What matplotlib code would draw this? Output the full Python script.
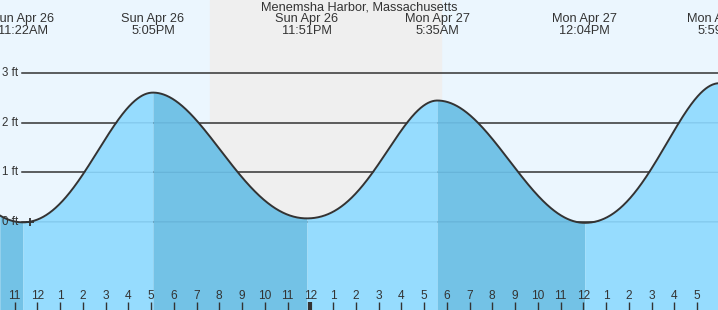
import matplotlib
matplotlib.use("Agg")
import matplotlib.pyplot as plt
import numpy as np
import pandas as pd

plt.rcParams['font.family'] = ['Liberation Sans', 'DejaVu Sans']

# tide heights (ft): highs, lows and points in between
curve_times = ['2020-04-26 10:21', '2020-04-26 11:22', '2020-04-26 12:33',
               '2020-04-26 13:18', '2020-04-26 13:44', '2020-04-26 14:06',
               '2020-04-26 15:29', '2020-04-26 17:05', '2020-04-26 18:56',
               '2020-04-26 20:55', '2020-04-26 22:09', '2020-04-26 22:53',
               '2020-04-26 23:51', '2020-04-27 01:05', '2020-04-27 02:07',
               '2020-04-27 02:45', '2020-04-27 04:14', '2020-04-27 05:35',
               '2020-04-27 07:22', '2020-04-27 09:10', '2020-04-27 10:28',
               '2020-04-27 11:12', '2020-04-27 12:04', '2020-04-27 13:24',
               '2020-04-27 14:16', '2020-04-27 14:56', '2020-04-27 16:16',
               '2020-04-27 17:59']
curve_heights = [0.13, -0.01, 0.24, 0.53, 0.75, 1.00, 2.00, 2.61, 2.00, 1.00,
                 0.38, 0.18, 0.07, 0.24, 0.61, 1.00, 2.00, 2.45, 1.89, 1.00,
                 0.38, 0.12, -0.02, 0.24, 0.61, 1.00, 2.00, 2.80]

# labelled highs / lows along the top
extreme_times = ['2020-04-26 11:22', '2020-04-26 17:05', '2020-04-26 23:51',
                 '2020-04-27 05:35', '2020-04-27 12:04', '2020-04-27 17:59']

sunset = '2020-04-26 19:35'
sunrise = '2020-04-27 05:45'
view_start = '2020-04-26 10:21:36'
view_end = '2020-04-27 17:55:18'
now_time = '2020-04-26 11:41'

hour_labels = ['11', '12', '1', '2', '3', '4', '5', '6', '7', '8', '9', '10', '11',
               '12', '1', '2', '3', '4', '5', '6', '7', '8', '9', '10', '11',
               '12', '1', '2', '3', '4', '5']
first_hour = '2020-04-26 11:00'
ft_levels = [0, 1, 2, 3]

title = 'Menemsha Harbor, Massachusetts'

midnight = pd.Timestamp('2020-04-27 00:00')


def hrs(s):
    return (pd.Timestamp(s) - midnight) / pd.Timedelta(hours=1)


day_bg = '#ebf6fe'
night_bg = '#efefef'
fill_rise = '#96dcfe'
fill_fall = '#73c2e6'
ink = '#333333'

fig = plt.figure(figsize=(7.18, 3.10), dpi=100)
ax = fig.add_axes([0, 0, 1, 1])
x0, x1 = hrs(view_start), hrs(view_end)
y0, y1 = -1.78, 4.48
ax.set_xlim(x0, x1)
ax.set_ylim(y0, y1)
ax.axis('off')

ax.axvspan(x0, x1, color=day_bg, zorder=0)
ax.axvspan(hrs(sunset), hrs(sunrise), color=night_bg, zorder=0)

gx = x0 + (x1 - x0) * 22 / 718
for lv in ft_levels:
    ax.plot([gx, x1], [lv, lv], color=ink, lw=1.1, zorder=1)
    ax.text(x0 + (x1 - x0) * 2 / 718, lv, f'{lv} ft', fontsize=8.3, color=ink,
            ha='left', va='center', zorder=5)

tx = np.array([hrs(s) for s in curve_times])
hy = np.array(curve_heights)
turn_x = [hrs(s) for s in extreme_times]
turn_idx = [int(np.argmin(np.abs(tx - t))) for t in turn_x]

# each half cycle: cosine between high and low, on a slightly skewed clock
# fitted to the points read in between
pieces = []
t_first = np.linspace(tx[0], tx[turn_idx[0]], 30)
w = (tx[turn_idx[0]] - t_first) / (tx[turn_idx[0]] - tx[0])
pieces.append((t_first, hy[turn_idx[0]] + (hy[0] - hy[turn_idx[0]]) * w ** 2, False))
for i0, i1 in zip(turn_idx[:-1], turn_idx[1:]):
    ta, tb, ha, hb = tx[i0], tx[i1], hy[i0], hy[i1]
    f = (tx[i0 + 1:i1] - ta) / (tb - ta)
    frac = np.clip((hy[i0 + 1:i1] - ha) / (hb - ha), 0, 1)
    u = np.arccos(1 - 2 * frac) / np.pi
    g = f * (1 - f)
    c = np.clip(np.sum((u - f) * g) / np.sum(g * g), -0.9, 0.9)
    t = np.linspace(ta, tb, 300)
    ff = (t - ta) / (tb - ta)
    uu = ff + c * ff * (1 - ff)
    pieces.append((t, ha + (hb - ha) * (1 - np.cos(np.pi * uu)) / 2, hb > ha))

for t, h, rising in pieces:
    ax.fill_between(t, y0, h, color=fill_rise if rising else fill_fall, lw=0, zorder=2)

all_t = np.concatenate([p[0] for p in pieces])
all_h = np.concatenate([p[1] for p in pieces])

# faint grid lines under water
for lv in ft_levels:
    inside = all_t >= gx
    ax.fill_between(all_t[inside], lv - 0.012, np.minimum(all_h[inside], lv + 0.012),
                    where=all_h[inside] > lv - 0.012, color='#3a7fa8', alpha=0.22,
                    lw=0, zorder=3)

ax.plot(all_t, all_h, color=ink, lw=1.4, zorder=4)

ax.plot([hrs(now_time)], [0], marker='+', ms=6, mew=1.3, color=ink, zorder=5)

# high / low labels across the top
for s in extreme_times:
    ts = pd.Timestamp(s)
    day = ts.strftime('%a %b ') + str(ts.day)
    tm = ts.strftime('%I:%M%p').lstrip('0')
    ax.text(hrs(s), 1 - 19 / 310, day, transform=ax.get_xaxis_transform(),
            ha='center', va='center', fontsize=9.2, color=ink, zorder=6)
    ax.text(hrs(s), 1 - 31 / 310, tm, transform=ax.get_xaxis_transform(),
            ha='center', va='center', fontsize=9.2, color=ink, zorder=6)

fig.text(0.5, 1 - 7 / 310, title, ha='center', va='center', fontsize=9.2, color=ink)

# hour ticks along the bottom
h0 = hrs(first_hour)
for k, lab in enumerate(hour_labels):
    x = h0 + k
    thick = (x % 24 == 0)
    ax.plot([x, x], [0, 8 / 310], transform=ax.get_xaxis_transform(),
            color=ink, lw=3 if thick else 1, solid_capstyle='butt', zorder=6)
    ax.text(x, 14 / 310, lab, transform=ax.get_xaxis_transform(),
            ha='center', va='center', fontsize=8.6, color=ink, zorder=6)

fig.savefig('out.png', dpi=100)
